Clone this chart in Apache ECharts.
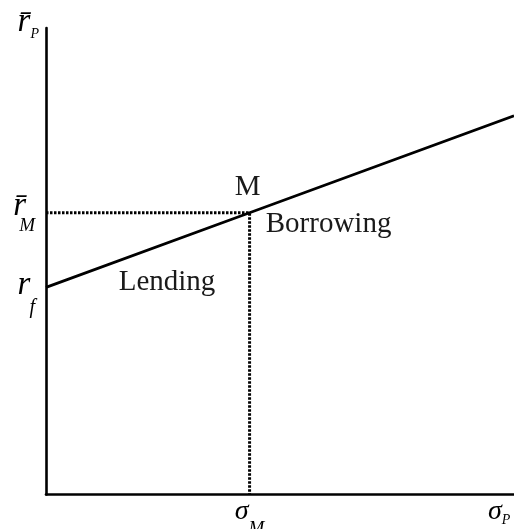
<!DOCTYPE html>
<html>
<head>
<meta charset="utf-8">
<script src="https://cdn.jsdelivr.net/npm/echarts@6/dist/echarts.min.js"></script>
<style>
  html, body { margin: 0; padding: 0; background: #ffffff; }
  #chart { width: 514px; height: 529px; }
</style>
</head>
<body>
<div id="chart"></div>
<script>
// Capital market line: expected portfolio return against portfolio risk
const riskFree = 44.4;          // r_f, intercept on the return axis
const sigmaMarket = 43.5;       // σ_M, risk of the market portfolio
const returnMarket = 60.4;      // r̄_M, expected return of the market portfolio
const sigmaMax = 100;           // right end of the risk axis
const returnAtMax = 81.2;       // line value at the right end

const cmlSigma = [0, sigmaMarket, sigmaMax];
const cmlReturn = [riskFree, returnMarket, returnAtMax];
const guideSigma = [0, sigmaMarket, sigmaMarket];
const guideReturn = [returnMarket, returnMarket, 0];
const annotationText = ['Lending', 'M', 'Borrowing'];
const annotationSigma = [0, sigmaMarket, sigmaMarket];
const annotationReturn = [riskFree, returnMarket, returnMarket];

const SERIF = 'Liberation Serif';

const zip = (xs, ys) => xs.map((x, i) => [x, ys[i]]);

// label offsets (px) relative to each anchor point on the line
const annotationOffsets = [[121, -5], [-2, -25], [79, 12]];

// italic math symbols with subscripts; each token gets a box height so that
// the main letter sits high and the subscript sits low inside a shared line
const it = (size, extra) => Object.assign({
  fontFamily: SERIF, fontStyle: 'italic', fontSize: size, color: '#000'
}, extra);

const yRich = {
  // r̄_M
  rm: it(33, { lineHeight: 50, height: 38, verticalAlign: 'top', padding: [0, -7, 0, 0] }),
  sm: it(19, { lineHeight: 50, height: 22.8, verticalAlign: 'bottom' }),
  // r_f
  rf: it(33, { lineHeight: 50, height: 46, verticalAlign: 'top', padding: [0, -1, 0, 0] }),
  sf: it(20, { lineHeight: 50, height: 9.6, verticalAlign: 'bottom' })
};

const yNameRich = {
  rp: it(33, { lineHeight: 40, height: 37.5, verticalAlign: 'top' }),
  sp: it(14, { lineHeight: 40, height: 19.4, verticalAlign: 'bottom' })
};

const xRich = {
  g: it(28, { lineHeight: 40, height: 31, verticalAlign: 'top' }),
  s: it(19, { lineHeight: 40, height: 15.5, verticalAlign: 'bottom' })
};

const xNameRich = {
  g: it(28, { lineHeight: 40, height: 35, verticalAlign: 'top' }),
  sp: it(14, { lineHeight: 40, height: 28, verticalAlign: 'bottom' })
};

const chart = echarts.init(document.getElementById('chart'), null, { renderer: 'canvas' });

chart.setOption({
  backgroundColor: '#ffffff',
  animation: false,
  grid: { left: 46, right: 0, top: 28, bottom: 34.5, containLabel: false, outerBoundsMode: 'none' },
  xAxis: {
    type: 'value',
    min: 0,
    max: sigmaMax,
    axisLine: { show: true, onZero: false, lineStyle: { color: '#000', width: 2.6 } },
    axisTick: { show: false },
    splitLine: { show: false },
    axisLabel: {
      customValues: [sigmaMarket],
      margin: 2,
      formatter: () => '{g|σ}{s|M}',
      rich: xRich
    },
    name: '{g|σ}{sp|P}',
    nameLocation: 'end',
    nameGap: -26,
    nameTextStyle: { verticalAlign: 'top', rich: xNameRich }
  },
  yAxis: {
    type: 'value',
    min: 0,
    max: 100,
    axisLine: { show: true, onZero: false, lineStyle: { color: '#000', width: 2.6 } },
    axisTick: { show: false },
    splitLine: { show: false },
    axisLabel: {
      customValues: [riskFree, returnMarket],
      margin: 11,
      formatter: (v) => (v === riskFree ? '{rf|r}{sf|f}' : '{rm|r\u0304}{sm|M}'),
      rich: yRich
    },
    name: '{rp|r\u0304}{sp|P}',
    nameLocation: 'end',
    nameGap: -16,
    nameTextStyle: { align: 'right', verticalAlign: 'bottom', padding: [0, 7, 0, 0], rich: yNameRich }
  },
  series: [
    {
      name: 'guides',
      type: 'line',
      data: zip(guideSigma, guideReturn),
      symbol: 'none',
      lineStyle: { color: '#000', width: 3, type: [2.5, 1.5], cap: 'butt' },
      silent: true,
      z: 2
    },
    {
      name: 'capital market line',
      type: 'line',
      data: zip(cmlSigma, cmlReturn),
      symbol: 'none',
      lineStyle: { color: '#000', width: 2.8 },
      silent: true,
      z: 3
    },
    {
      name: 'annotations',
      type: 'scatter',
      symbolSize: 0,
      silent: true,
      itemStyle: { opacity: 1 },
      data: annotationText.map((t, i) => ({
        value: [annotationSigma[i], annotationReturn[i]],
        label: {
          show: true,
          formatter: t,
          position: 'inside',
          offset: annotationOffsets[i],
          fontFamily: SERIF,
          fontSize: 29,
          color: '#1a1a1a',
          opacity: 1
        }
      })),
      z: 4
    }
  ]
});
</script>
</body>
</html>
